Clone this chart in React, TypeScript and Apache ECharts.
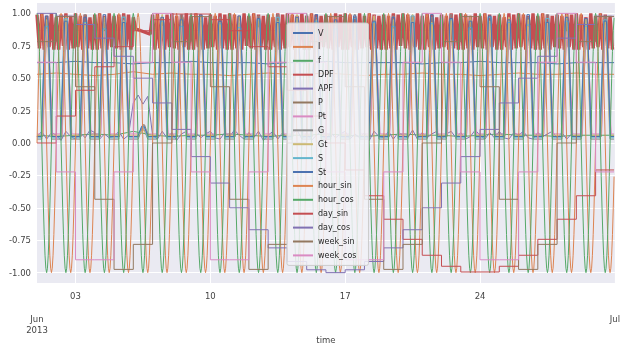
import React, { useEffect, useRef } from "react";
import * as echarts from "echarts";

// ---------- data ----------
const SERIES_NAMES = [
  "V", "I", "f", "DPF", "APF", "P", "Pt", "G", "Gt", "S", "St",
  "hour_sin", "hour_cos", "day_sin", "day_cos", "week_sin", "week_cos",
];
const PALETTE = [
  "#4C72B0", "#DD8452", "#55A868", "#C44E52", "#8172B3",
  "#937860", "#DA8BC3", "#8C8C8C", "#CCB974", "#64B5CD",
];

const Y_TICKS = [-1, -0.75, -0.5, -0.25, 0, 0.25, 0.5, 0.75, 1];
const X_MINOR_TICKS = ["2013-06-03", "2013-06-10", "2013-06-17", "2013-06-24"];
const X_MAJOR_TICKS = ["2013-06-01", "2013-07-01"];

// nearly flat daily values (June 1..30)
const V = [0.62, 0.62, 0.63, 0.62, 0.62, 0.61, 0.62, 0.62, 0.63, 0.62, 0.62, 0.62, 0.61, 0.62, 0.62, 0.63, 0.62, 0.62, 0.62, 0.62, 0.61, 0.62, 0.62, 0.63, 0.62, 0.62, 0.62, 0.61, 0.62, 0.62];
const I = [0.53, 0.54, 0.53, 0.52, 0.53, 0.55, 0.53, 0.54, 0.53, 0.53, 0.52, 0.53, 0.54, 0.53, 0.53, 0.54, 0.53, 0.52, 0.53, 0.53, 0.54, 0.53, 0.53, 0.52, 0.53, 0.54, 0.53, 0.53, 0.54, 0.53];
const F = [0.06, 0.05, 0.06, 0.07, 0.06, 0.09, 0.06, 0.05, 0.06, 0.06, 0.07, 0.06, 0.05, 0.06, 0.06, 0.07, 0.06, 0.05, 0.06, 0.07, 0.06, 0.06, 0.05, 0.06, 0.07, 0.06, 0.06, 0.05, 0.06, 0.06];

// daily-cycle series: night level, and daytime peak for each day (June 1..30)
const P_NIGHT = 0.05;
const PT_NIGHT = 0.07;
const G_NIGHT = 0.03;
const GT_NIGHT = 0.06;
const S_NIGHT = 0.04;
const ST_NIGHT = 0.05;
const P_PEAK = [0.92, 0.88, 0.95, 0.9, 0.86, 0.14, 0.93, 0.97, 0.89, 0.91, 0.85, 0.94, 0.96, 0.9, 0.88, 0.92, 0.95, 0.87, 0.93, 0.9, 0.96, 0.89, 0.94, 0.91, 0.86, 0.95, 0.9, 0.93, 0.88, 0.97];
const PT_PEAK = [0.88, 0.93, 0.9, 0.86, 0.95, 0.12, 0.9, 0.92, 0.97, 0.87, 0.94, 0.89, 0.91, 0.96, 0.85, 0.9, 0.93, 0.98, 0.88, 0.94, 0.9, 0.95, 0.87, 0.92, 0.96, 0.89, 0.93, 0.86, 0.95, 0.91];
const G_PEAK = [0.97, 0.95, 0.99, 0.93, 0.98, 0.11, 0.96, 0.99, 0.94, 0.97, 0.92, 0.98, 0.99, 0.95, 0.97, 0.93, 0.99, 0.96, 0.98, 0.94, 0.97, 0.99, 0.95, 0.98, 0.93, 0.97, 0.99, 0.96, 0.94, 0.98];
const GT_PEAK = [0.95, 0.98, 0.93, 0.97, 0.94, 0.1, 0.99, 0.95, 0.97, 0.93, 0.98, 0.96, 0.94, 0.99, 0.95, 0.97, 0.92, 0.98, 0.95, 0.99, 0.93, 0.96, 0.98, 0.94, 0.97, 0.95, 0.93, 0.99, 0.96, 0.94];
const S_PEAK = [0.9, 0.96, 0.93, 0.88, 0.97, 0.12, 0.94, 0.9, 0.98, 0.92, 0.89, 0.95, 0.97, 0.91, 0.94, 0.88, 0.96, 0.93, 0.9, 0.98, 0.92, 0.95, 0.89, 0.97, 0.93, 0.91, 0.96, 0.94, 0.9, 0.95];
const ST_PEAK = [0.98, 0.94, 0.97, 0.99, 0.93, 0.13, 0.97, 0.95, 0.99, 0.94, 0.98, 0.96, 0.93, 0.97, 0.99, 0.95, 0.98, 0.94, 0.97, 0.93, 0.99, 0.96, 0.94, 0.98, 0.95, 0.99, 0.93, 0.97, 0.96, 0.94];
// hours of day: rise start, peak start, peak end, fall end
const P_SHAPE = [7, 12, 14, 19];
const PT_SHAPE = [7.5, 12, 13, 19.5];
const G_SHAPE = [6, 11, 13, 18];
const GT_SHAPE = [6.5, 11.5, 12.5, 17.5];
const S_SHAPE = [5, 10, 14, 18];
const ST_SHAPE = [5.5, 10.5, 13.5, 18.5];

// DPF every 3 hours (8 per day)
const DPF = [
  0.99, 0.73, 1.0, 0.72, 0.98, 0.74, 1.0, 0.72,
  0.97, 0.72, 0.99, 0.75, 1.0, 0.72, 0.98, 0.73,
  1.0, 0.74, 0.98, 0.72, 0.99, 0.73, 0.97, 0.72,
  0.99, 0.72, 1.0, 0.73, 0.98, 0.72, 1.0, 0.74,
  0.98, 0.73, 0.99, 0.72, 1.0, 0.75, 0.99, 0.72,
  0.97, 0.88, null, null, 0.86, null, null, 0.84,
  0.99, 0.72, 1.0, 0.73, 0.97, 0.72, 0.99, 0.74,
  1.0, 0.73, 0.98, 0.72, 0.99, 0.74, 1.0, 0.72,
  0.98, 0.72, 1.0, 0.74, 0.99, 0.72, 0.97, 0.73,
  0.99, 0.74, 0.98, 0.72, 1.0, 0.73, 0.99, 0.72,
  1.0, 0.72, 0.99, 0.73, 0.98, 0.72, 1.0, 0.75,
  0.98, 0.73, 1.0, 0.72, 0.99, 0.74, 0.98, 0.72,
  0.99, 0.72, 0.97, 0.74, 1.0, 0.72, 0.99, 0.73,
  1.0, 0.74, 0.99, 0.72, 0.98, 0.73, 1.0, 0.72,
  0.98, 0.72, 1.0, 0.73, 0.99, 0.72, 0.98, 0.74,
  0.99, 0.73, 0.98, 0.72, 1.0, 0.74, 0.99, 0.72,
  1.0, 0.72, 0.99, 0.74, 0.97, 0.72, 1.0, 0.73,
  0.98, 0.74, 1.0, 0.72, 0.99, 0.73, 0.98, 0.72,
  0.99, 0.72, 0.98, 0.73, 1.0, 0.72, 0.99, 0.75,
  1.0, 0.73, 0.99, 0.72, 0.98, 0.74, 1.0, 0.72,
  0.98, 0.72, 1.0, 0.74, 0.99, 0.72, 0.97, 0.73,
  0.99, 0.74, 0.98, 0.72, 1.0, 0.73, 0.99, 0.72,
  1.0, 0.72, 0.99, 0.73, 0.98, 0.72, 1.0, 0.74,
  0.98, 0.73, 1.0, 0.72, 0.99, 0.74, 0.98, 0.72,
  0.99, 0.72, 0.97, 0.74, 1.0, 0.72, 0.99, 0.73,
  1.0, 0.74, 0.99, 0.72, 0.98, 0.73, 1.0, 0.72,
  0.98, 0.72, 1.0, 0.73, 0.99, 0.72, 0.98, 0.74,
  0.99, 0.73, 0.98, 0.72, 1.0, 0.74, 0.99, 0.72,
  1.0, 0.72, 0.99, 0.74, 0.97, 0.72, 1.0, 0.73,
  0.98, 0.74, 1.0, 0.72, 0.99, 0.73, 0.98, 0.72,
];

// APF every 6 hours (4 per day)
const APF = [
  0.05, 0.09, 0.03, 0.08, 0.06, 0.02, 0.09, 0.05, 0.03, 0.08, 0.04, 0.1,
  0.08, 0.03, 0.07, 0.04, 0.05, 0.09, 0.03, 0.06, 0.31, 0.37, 0.3, 0.36,
  0.06, 0.03, 0.09, 0.04, 0.08, 0.02, 0.07, 0.09, 0.03, 0.08, 0.04, 0.07,
  0.09, 0.04, 0.03, 0.08, 0.05, 0.1, 0.06, 0.03, 0.08, 0.04, 0.09, 0.02,
  0.06, 0.09, 0.03, 0.08, 0.04, 0.07, 0.1, 0.03, 0.08, 0.02, 0.06, 0.09,
  0.03, 0.08, 0.04, 0.07, 0.09, 0.03, 0.07, 0.04, 0.08, 0.02, 0.09, 0.05,
  0.04, 0.09, 0.03, 0.08, 0.06, 0.04, 0.1, 0.03, 0.08, 0.04, 0.07, 0.09,
  0.03, 0.07, 0.09, 0.04, 0.08, 0.03, 0.05, 0.1, 0.06, 0.03, 0.08, 0.04,
  0.09, 0.04, 0.03, 0.08, 0.06, 0.09, 0.04, 0.03, 0.08, 0.05, 0.07, 0.09,
  0.04, 0.08, 0.03, 0.07,
];

// hourly templates for one day (hour 0..23)
const HOUR_SIN = [0, 0.259, 0.5, 0.707, 0.866, 0.966, 1, 0.966, 0.866, 0.707, 0.5, 0.259, 0, -0.259, -0.5, -0.707, -0.866, -0.966, -1, -0.966, -0.866, -0.707, -0.5, -0.259];
const HOUR_COS = [1, 0.966, 0.866, 0.707, 0.5, 0.259, 0, -0.259, -0.5, -0.707, -0.866, -0.966, -1, -0.966, -0.866, -0.707, -0.5, -0.259, 0, 0.259, 0.5, 0.707, 0.866, 0.966];

// per-day steps (June 1..30)
const DAY_SIN = [0, 0.208, 0.407, 0.588, 0.743, 0.866, 0.951, 0.995, 0.995, 0.951, 0.866, 0.743, 0.588, 0.407, 0.208, 0, -0.208, -0.407, -0.588, -0.743, -0.866, -0.951, -0.995, -0.995, -0.951, -0.866, -0.743, -0.588, -0.407, -0.208];
const DAY_COS = [1, 0.978, 0.914, 0.809, 0.669, 0.5, 0.309, 0.105, -0.105, -0.309, -0.5, -0.669, -0.809, -0.914, -0.978, -1, -0.978, -0.914, -0.809, -0.669, -0.5, -0.309, -0.105, 0.105, 0.309, 0.5, 0.669, 0.809, 0.914, 0.978];
const WEEK_SIN = [0.782, 0.975, 0.434, -0.434, -0.975, -0.782, 0, 0.782, 0.975, 0.434, -0.434, -0.975, -0.782, 0, 0.782, 0.975, 0.434, -0.434, -0.975, -0.782, 0, 0.782, 0.975, 0.434, -0.434, -0.975, -0.782, 0, 0.782, 0.975];
const WEEK_COS = [0.623, -0.223, -0.901, -0.901, -0.223, 0.623, 1, 0.623, -0.223, -0.901, -0.901, -0.223, 0.623, 1, 0.623, -0.223, -0.901, -0.901, -0.223, 0.623, 1, 0.623, -0.223, -0.901, -0.901, -0.223, 0.623, 1, 0.623, -0.223];

// ---------- builders ----------
const H = 3600 * 1000;
const T0 = new Date(2013, 5, 1, 0, 0, 0).getTime();
const T_END = T0 + 719 * H;
const ts = (s: string) => {
  const [y, m, d] = s.split("-").map(Number);
  return new Date(y, m - 1, d).getTime();
};

const everyNHours = (vals: (number | null)[], n: number) => vals.map((v, i) => [T0 + i * n * H, v]);
const daily = (vals: number[]) => [...vals.map((v, i) => [T0 + i * 24 * H, v]), [T_END, vals[vals.length - 1]]];
const hourly = (tpl: number[]) => {
  const out: number[][] = [];
  for (let d = 0; d < 30; d++) for (let h = 0; h < 24; h++) out.push([T0 + (d * 24 + h) * H, tpl[h]]);
  return out;
};
const dailyCycle = (peaks: number[], night: number, shape: number[]) => {
  const out: number[][] = [[T0, night]];
  peaks.forEach((pk, d) => {
    const h0 = d * 24;
    out.push(
      [T0 + (h0 + shape[0]) * H, night],
      [T0 + (h0 + shape[1]) * H, pk],
      [T0 + (h0 + shape[2]) * H, pk],
      [T0 + (h0 + shape[3]) * H, night],
    );
  });
  out.push([T_END, night]);
  return out;
};

const SERIES_DATA: Record<string, any[]> = {
  V: daily(V),
  I: daily(I),
  f: daily(F),
  DPF: everyNHours(DPF, 3),
  APF: everyNHours(APF, 6),
  P: dailyCycle(P_PEAK, P_NIGHT, P_SHAPE),
  Pt: dailyCycle(PT_PEAK, PT_NIGHT, PT_SHAPE),
  G: dailyCycle(G_PEAK, G_NIGHT, G_SHAPE),
  Gt: dailyCycle(GT_PEAK, GT_NIGHT, GT_SHAPE),
  S: dailyCycle(S_PEAK, S_NIGHT, S_SHAPE),
  St: dailyCycle(ST_PEAK, ST_NIGHT, ST_SHAPE),
  hour_sin: hourly(HOUR_SIN),
  hour_cos: hourly(HOUR_COS),
  day_sin: daily(DAY_SIN),
  day_cos: daily(DAY_COS),
  week_sin: daily(WEEK_SIN),
  week_cos: daily(WEEK_COS),
};
const STEP_SERIES = new Set(["day_sin", "day_cos", "week_sin", "week_cos"]);

const FONT = "DejaVu Sans";

export default function App() {
  const ref = useRef<HTMLDivElement>(null);
  useEffect(() => {
    if (!ref.current) return;
    const chart = echarts.init(ref.current, null, { renderer: "svg" });
    const series = SERIES_NAMES.map((name, i) => ({
      name,
      type: "line",
      data: SERIES_DATA[name],
      showSymbol: false,
      symbol: "none",
      connectNulls: true,
      step: STEP_SERIES.has(name) ? "end" : false,
      color: PALETTE[i % PALETTE.length],
      lineStyle: { width: name === "DPF" ? 3.4 : 1 },
      emphasis: { disabled: true },
    }));
    const xMin = T0;
    const xMax = ts("2013-07-01");
    chart.setOption({
      animation: false,
      grid: {
        left: 37, right: 1, top: 3, bottom: 66,
        show: true, backgroundColor: "#EAEAF2", borderWidth: 0,
      },
      legend: {
        data: SERIES_NAMES,
        orient: "vertical",
        left: 287, top: 23,
        icon: "rect",
        itemWidth: 20, itemHeight: 2,
        itemGap: 3.9,
        padding: [5, 12, 5, 6],
        backgroundColor: "rgba(242,242,247,0.85)",
        borderColor: "#cccccc", borderWidth: 1, borderRadius: 2,
        selectedMode: false,
        textStyle: { fontFamily: FONT, fontSize: 8, color: "#262626", lineHeight: 10 },
      },
      xAxis: [
        {
          type: "value",
          min: xMin, max: xMax,
          name: "time", nameLocation: "middle", nameGap: 52,
          nameTextStyle: { fontFamily: FONT, fontSize: 8.5, color: "#444" },
          axisLine: { show: false },
          axisTick: { show: false, customValues: X_MINOR_TICKS.map(ts) },
          splitLine: { show: true, lineStyle: { color: "#ffffff", width: 1 } },
          axisLabel: {
            customValues: X_MINOR_TICKS.map(ts),
            formatter: (v: number) => String(new Date(v).getDate()).padStart(2, "0"),
            fontFamily: FONT, fontSize: 8.5, color: "#444", margin: 8,
          },
        },
        {
          type: "value",
          min: xMin, max: xMax,
          position: "bottom", offset: 22,
          axisLine: { show: false },
          axisTick: { show: false, customValues: X_MAJOR_TICKS.map(ts) },
          splitLine: { show: false },
          axisLabel: {
            customValues: X_MAJOR_TICKS.map(ts),
            formatter: (v: number) => (new Date(v).getMonth() === 5 ? "Jun\n2013" : "Jul"),
            fontFamily: FONT, fontSize: 8.5, color: "#444", margin: 8, lineHeight: 11,
            showMinLabel: true, showMaxLabel: true,
            alignMinLabel: "center", alignMaxLabel: "center",
          },
        },
      ],
      yAxis: {
        type: "value",
        min: -1.08, max: 1.08,
        axisLine: { show: false },
        axisTick: { show: false, customValues: Y_TICKS },
        splitLine: { show: true, lineStyle: { color: "#ffffff", width: 1 } },
        axisLabel: {
          customValues: Y_TICKS,
          formatter: (v: number) => v.toFixed(2),
          fontFamily: FONT, fontSize: 8.5, color: "#444", margin: 6,
        },
      },
      series,
    });
    return () => chart.dispose();
  }, []);
  return <div ref={ref} style={{ position: "fixed", left: 0, top: 0, width: 623, height: 349 }} />;
}
